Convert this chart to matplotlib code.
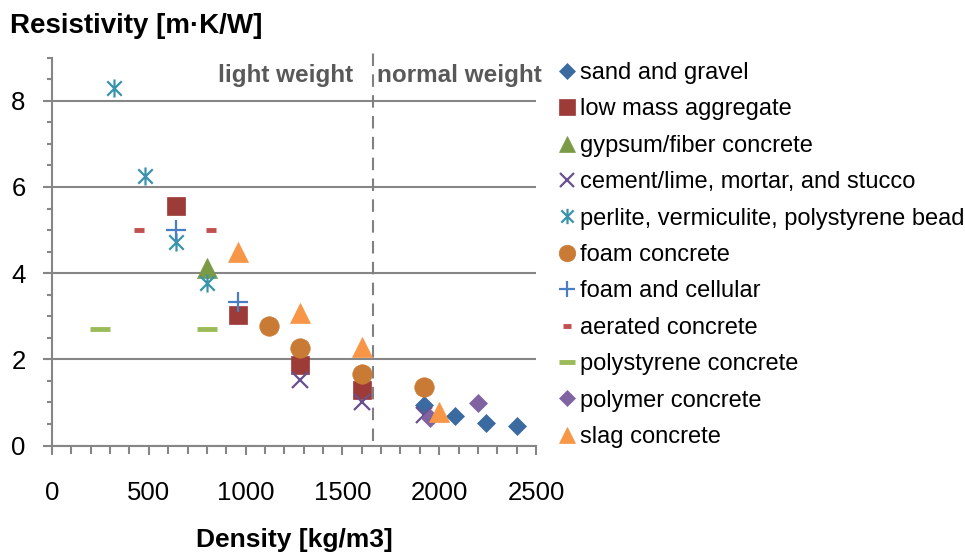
import matplotlib

matplotlib.use("Agg")
import matplotlib.pyplot as plt
from matplotlib.path import Path
from matplotlib.ticker import MultipleLocator

plt.rcParams["font.family"] = ["Liberation Sans", "DejaVu Sans"]

# --- data (density kg/m3, resistivity m.K/W) ---
sand_x = [1920, 2080, 2240, 2400]
sand_y = [0.94, 0.69, 0.52, 0.46]
lowmass_x = [640, 960, 1280, 1600]
lowmass_y = [5.56, 3.03, 1.87, 1.29]
gypsum_x = [800]
gypsum_y = [4.11]
cement_x = [1280, 1600, 1920]
cement_y = [1.52, 1.02, 0.70]
perlite_x = [320, 480, 640, 800]
perlite_y = [8.30, 6.25, 4.73, 3.76]
foam_x = [1120, 1280, 1600, 1920]
foam_y = [2.77, 2.27, 1.65, 1.35]
cellular_x = [640, 960]
cellular_y = [5.00, 3.34]
aerated_x = [450, 820]
aerated_y = [5.00, 5.00]
polystyrene_x = [250, 800]
polystyrene_y = [2.71, 2.71]
polymer_x = [1950, 2200]
polymer_y = [0.64, 0.98]
slag_x = [960, 1280, 1600, 2000]
slag_y = [4.50, 3.08, 2.29, 0.78]

series_names = [
    "sand and gravel",
    "low mass aggregate",
    "gypsum/fiber concrete",
    "cement/lime, mortar, and stucco",
    "perlite, vermiculite, polystyrene bead",
    "foam concrete",
    "foam and cellular",
    "aerated concrete",
    "polystyrene concrete",
    "polymer concrete",
    "slag concrete",
]
series_x = [sand_x, lowmass_x, gypsum_x, cement_x, perlite_x, foam_x,
            cellular_x, aerated_x, polystyrene_x, polymer_x, slag_x]
series_y = [sand_y, lowmass_y, gypsum_y, cement_y, perlite_y, foam_y,
            cellular_y, aerated_y, polystyrene_y, polymer_y, slag_y]

DIVIDER_X = 1660  # light / normal weight boundary

# asterisk = X plus a vertical bar
asterisk = Path(
    [(-1, -1), (1, 1), (-1, 1), (1, -1), (0, -1.25), (0, 1.25)],
    [Path.MOVETO, Path.LINETO, Path.MOVETO, Path.LINETO, Path.MOVETO, Path.LINETO],
)

styles = [
    dict(marker="D", ms=9.5, color="#3B6AA0"),
    dict(marker="s", ms=13.5, color="#9D3B38"),
    dict(marker="^", ms=14, color="#7B9A45"),
    dict(marker="x", ms=12, color="#69508F", mew=1.6),
    dict(marker=asterisk, ms=13, color="#3A93AC", mew=1.6),
    dict(marker="o", ms=14, color="#C97A34"),
    dict(marker="+", ms=14, color="#4A7EC2", mew=1.6),
    dict(marker="_", ms=7.5, color="#C0504D", mew=3.5),
    dict(marker="_", ms=14, color="#9BBB59", mew=3.5),
    dict(marker="D", ms=9.5, color="#8064A2"),
    dict(marker="^", ms=14, color="#F79646"),
]

W, H = 965, 553
fig = plt.figure(figsize=(W / 100, H / 100), dpi=100)
x0, x1, y0, y1 = 52, 536, 445.5, 57.7
ax = fig.add_axes([x0 / W, 1 - y0 / H, (x1 - x0) / W, (y0 - y1) / H])

handles = []
for name, xs, ys, st in zip(series_names, series_x, series_y, styles):
    st = dict(st)
    color = st.pop("color")
    if "mew" not in st:
        st["mew"] = 0.5
    (h,) = ax.plot(xs, ys, linestyle="none", color=color, mec=color, mfc=color,
                   label=name, clip_on=False, zorder=3, **st)
    handles.append(h)

ax.plot([DIVIDER_X, DIVIDER_X], [0.1, 9.22], color="#808080", lw=1.5,
        dashes=(6, 4), clip_on=False, zorder=2)

txt_kw = dict(fontsize=17.5, fontweight="bold", color="#595959", va="baseline")
ax.text(1205, 8.44, "light weight", ha="center", **txt_kw)
ax.text(1680, 8.44, "normal weight", ha="left", **txt_kw)

ax.set_xlim(0, 2500)
ax.set_ylim(0, 9)
ax.xaxis.set_major_locator(MultipleLocator(500))
ax.xaxis.set_minor_locator(MultipleLocator(100))
ax.yaxis.set_major_locator(MultipleLocator(2))
ax.yaxis.set_minor_locator(MultipleLocator(0.5))

grey = "#868686"
for side in ("top", "right"):
    ax.spines[side].set_visible(False)
for side in ("left", "bottom"):
    ax.spines[side].set_color(grey)
    ax.spines[side].set_linewidth(1.5)
ax.yaxis.grid(True, which="major", color=grey, lw=1.5)
ax.set_axisbelow(True)

ax.tick_params(axis="both", which="both", color=grey, width=1.5, direction="out",
               labelsize=18.5, labelcolor="black")
ax.tick_params(axis="y", which="major", length=6.5, pad=12.5)
ax.tick_params(axis="y", which="minor", length=3.6)
ax.tick_params(axis="x", which="major", length=6.5, pad=19)
ax.tick_params(axis="x", which="minor", length=5.5)

ax.set_xlabel("Density [kg/m3]", fontsize=19, fontweight="bold")
ax.xaxis.set_label_coords(0.5, (y0 - 540) / (y0 - y1))
ax.xaxis.label.set_va("center")
ax.set_ylabel("Resistivity [m·K/W]", fontsize=20, fontweight="bold",
              rotation=0, ha="left", va="baseline")
ax.yaxis.set_label_coords((10 - x0) / (x1 - x0), (y0 - 33) / (y0 - y1))

ax.legend(handles=handles, loc="upper left", bbox_to_anchor=(560 / W, 1 - 62 / H),
          bbox_transform=fig.transFigure, frameon=False, fontsize=17, numpoints=1,
          handlelength=0.6, handletextpad=0.25, labelspacing=0.61, borderpad=0,
          borderaxespad=0, markerscale=0.85)

fig.savefig("out.png", dpi=100)
plt.close(fig)
